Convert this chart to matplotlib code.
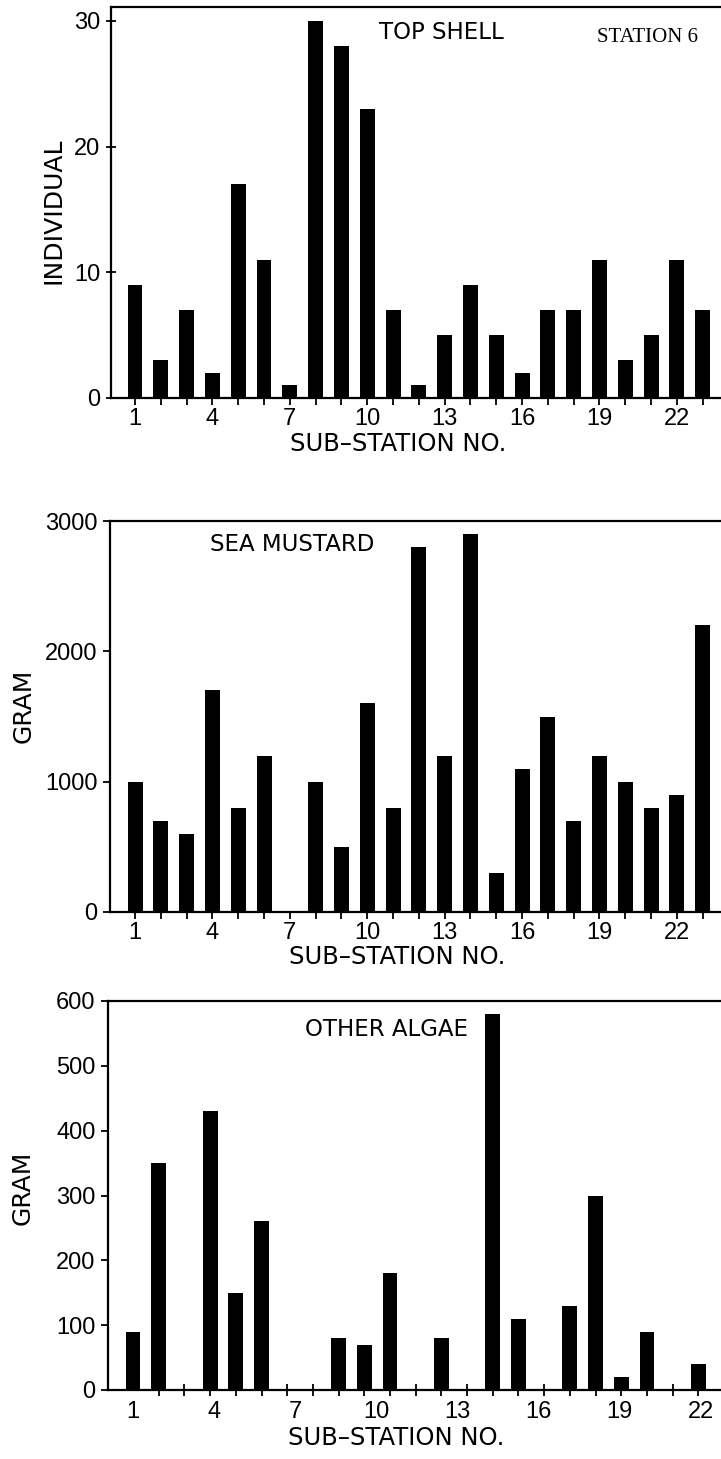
"""Station 6 survey: top shell counts and algae weights per sub-station."""

import matplotlib

matplotlib.use("Agg")
import matplotlib.pyplot as plt

sub_station = list(range(1, 24))
tick_numbers = [1, 4, 7, 10, 13, 16, 19, 22]

top_shell = [9, 3, 7, 2, 17, 11, 1, 30, 28, 23, 7, 1, 5, 9, 5, 2, 7, 7, 11, 3, 5, 11, 7]
sea_mustard = [1000, 700, 600, 1700, 800, 1200, 0, 1000, 500, 1600, 800, 2800,
               1200, 2900, 300, 1100, 1500, 700, 1200, 1000, 800, 900, 2200]
other_algae = [90, 350, 0, 430, 150, 260, 0, 0, 80, 70, 180, 0,
               80, 0, 580, 110, 0, 130, 300, 20, 90, 0, 40]

top_yticks = [0, 10, 20, 30]
mustard_yticks = [0, 1000, 2000, 3000]
algae_yticks = [0, 100, 200, 300, 400, 500, 600]

LABEL_FONT = ["DejaVu Sans"]
TICK_FONT = ["Liberation Sans", "DejaVu Sans"]
XLABEL = "SUB\u2013STATION NO."
BAR_WIDTH = 0.58

W, H = 721, 1459
fig = plt.figure(figsize=(W / 100, H / 100), dpi=100)


def px_rect(left, top, right, bottom):
    return [left / W, 1 - bottom / H, (right - left) / W, (bottom - top) / H]


def style_panel(ax, ylabel, yticks, ylim, xlim, ytick_dir, ylabel_pos, xlabel_y):
    for side in ("left", "bottom", "top"):
        ax.spines[side].set_linewidth(1.6)
    ax.spines["right"].set_visible(False)
    ax.set_xlim(*xlim)
    ax.set_ylim(*ylim)
    ax.set_yticks(yticks)
    ax.set_yticklabels([str(v) for v in yticks], family=TICK_FONT, fontsize=17)
    ax.tick_params(axis="y", direction=ytick_dir, length=7 if ytick_dir == "inout" else 5,
                   width=1.3, pad=4)
    ax.set_ylabel(ylabel, family=LABEL_FONT, fontsize=18, va="center")
    ax.yaxis.set_label_coords(*ylabel_pos)
    ax.set_xlabel(XLABEL, family=LABEL_FONT, fontsize=17.5, va="center")
    ax.xaxis.set_label_coords(0.47, xlabel_y)


def regular_xticks(ax):
    ax.set_xticks(sub_station)
    ax.set_xticklabels([str(k) if k in tick_numbers else "" for k in sub_station],
                       family=TICK_FONT, fontsize=17)
    ax.tick_params(axis="x", direction="out", length=5, width=1.3, pad=2)


# top panel: individuals
ax1 = fig.add_axes(px_rect(111, 7, 721, 398))
ax1.bar(sub_station, top_shell, width=BAR_WIDTH, color="black", linewidth=0)
style_panel(ax1, "INDIVIDUAL", top_yticks, (0, 31.1), (0.07, 23.71), "inout",
            (-0.095, 0.478), -0.118)
regular_xticks(ax1)
ax1.text(0.541, 0.934, "TOP SHELL", transform=ax1.transAxes, ha="center", va="center",
         family=LABEL_FONT, fontsize=16.5)
ax1.text(0.879, 0.923, "STATION 6", transform=ax1.transAxes, ha="center", va="center",
         family=["Liberation Serif", "DejaVu Serif"], fontsize=15)

# middle panel: sea mustard
ax2 = fig.add_axes(px_rect(110, 521, 721, 912))
ax2.bar(sub_station, sea_mustard, width=BAR_WIDTH, color="black", linewidth=0)
style_panel(ax2, "GRAM", mustard_yticks, (0, 3000), (0.03, 23.71), "out",
            (-0.142, 0.527), -0.115)
regular_xticks(ax2)
ax2.text(0.298, 0.939, "SEA MUSTARD", transform=ax2.transAxes, ha="center", va="center",
         family=LABEL_FONT, fontsize=16.5)

# bottom panel: other algae, number labels drift slightly right of the ticks
ax3 = fig.add_axes(px_rect(108, 1001, 721, 1390))
ax3.bar(sub_station, other_algae, width=BAR_WIDTH, color="black", linewidth=0)
style_panel(ax3, "GRAM", algae_yticks, (0, 600), (0.027, 23.88), "out",
            (-0.139, 0.519), -0.123)
label_stretch = 1.052
ax3.set_xticks(sub_station, minor=True)
ax3.set_xticks([1 + (k - 1) * label_stretch for k in tick_numbers])
ax3.set_xticklabels([str(k) for k in tick_numbers], family=TICK_FONT, fontsize=17)
ax3.tick_params(axis="x", which="major", length=0, pad=8)
ax3.tick_params(axis="x", which="minor", direction="inout", length=9, width=1.3)
ax3.text(0.455, 0.928, "OTHER ALGAE", transform=ax3.transAxes, ha="center", va="center",
         family=LABEL_FONT, fontsize=16.5)

fig.savefig("out.png", dpi=100)
